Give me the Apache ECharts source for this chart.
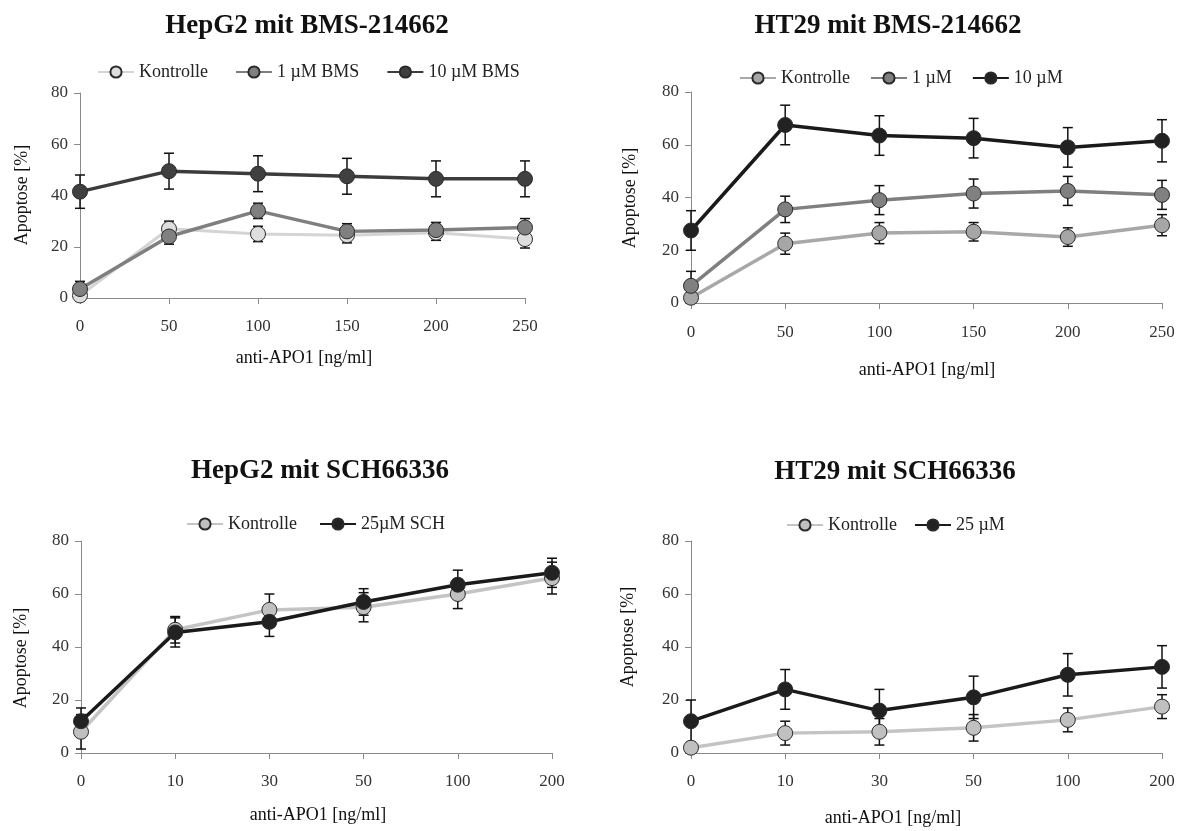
<!DOCTYPE html>
<html>
<head>
<meta charset="utf-8">
<script src="https://cdn.jsdelivr.net/npm/echarts@6/dist/echarts.min.js"></script>
<style>
  html, body { margin: 0; padding: 0; background: #fff; }
  #chart { width: 1184px; height: 831px; }
</style>
</head>
<body>
<div id="chart"></div>
<script>
const chart = echarts.init(document.getElementById('chart'));

// x-Achsen (anti-APO1 in ng/ml)
const dosesBMS = ['0', '50', '100', '150', '200', '250'];
const dosesSCH = ['0', '10', '30', '50', '100', '200'];
const yTicks = [0, 20, 40, 60, 80];

// HepG2 mit BMS-214662
const hepBmsCtrl = [1, 27, 25, 24.5, 25.5, 23];
const hepBmsCtrlErr = [2, 3, 3, 3, 3, 3.5];
const hepBms1 = [3.5, 24, 34, 26, 26.5, 27.5];
const hepBms1Err = [3, 3, 3, 3, 3, 3.5];
const hepBms10 = [41.5, 49.5, 48.5, 47.5, 46.5, 46.5];
const hepBms10Err = [6.5, 7, 7, 7, 7, 7];

// HT29 mit BMS-214662
const htBmsCtrl = [2, 22.5, 26.5, 27, 25, 29.5];
const htBmsCtrlErr = [2, 4, 4, 3.5, 3.5, 4];
const htBms1 = [6.5, 35.5, 39, 41.5, 42.5, 41];
const htBms1Err = [5.5, 5, 5.5, 5.5, 5.5, 5.5];
const htBms10 = [27.5, 67.5, 63.5, 62.5, 59, 61.5];
const htBms10Err = [7.5, 7.5, 7.5, 7.5, 7.5, 8];

// HepG2 mit SCH66336
const hepSchCtrl = [8, 46.5, 54, 55, 60, 66];
const hepSchCtrlErr = [6.5, 5, 6, 5.5, 5.5, 6];
const hepSch25 = [12, 45.5, 49.5, 57, 63.5, 68];
const hepSch25Err = [5, 5.5, 5.5, 5, 5.5, 5.5];

// HT29 mit SCH66336
const htSchCtrl = [2, 7.5, 8, 9.5, 12.5, 17.5];
const htSchCtrlErr = [1.5, 4.5, 5, 5, 4.5, 4.5];
const htSch25 = [12, 24, 16, 21, 29.5, 32.5];
const htSch25Err = [8, 7.5, 8, 8, 8, 8];

// Legendentexte
const legendText = {
  a1: 'Kontrolle', a2: '1 µM BMS', a3: '10 µM BMS',
  b1: 'Kontrolle', b2: '1 µM', b3: '10 µM',
  c1: 'Kontrolle', c2: '25µM SCH',
  d1: 'Kontrolle', d2: '25 µM'
};

const serif = 'Liberation Serif, Times New Roman, serif';

const grids = [
  { left: 80, top: 93, width: 445, height: 205 },
  { left: 691, top: 92, width: 471, height: 211 },
  { left: 81, top: 541, width: 471, height: 212 },
  { left: 691, top: 541, width: 471, height: 212 }
];

function xAxis(idx, cats, margin) {
  return {
    type: 'category', gridIndex: idx, data: cats, boundaryGap: false,
    axisLine: { lineStyle: { color: '#8a8a8a', width: 1 } },
    axisTick: { length: 6, lineStyle: { color: '#8a8a8a' } },
    axisLabel: { color: '#333', fontSize: 17, fontFamily: serif, margin: margin },
    splitLine: { show: false }
  };
}

function yAxis(idx) {
  return {
    type: 'value', gridIndex: idx, min: yTicks[0], max: yTicks[yTicks.length - 1], interval: 20,
    axisLine: { show: true, lineStyle: { color: '#8a8a8a', width: 1 } },
    axisTick: { show: true, length: 6, lineStyle: { color: '#8a8a8a' } },
    axisLabel: { color: '#333', fontSize: 17, fontFamily: serif, margin: 12 },
    splitLine: { show: false }
  };
}

function line(name, idx, data, lineColor, fill, width) {
  return {
    name: name, type: 'line', xAxisIndex: idx, yAxisIndex: idx, data: data,
    symbol: 'circle', symbolSize: 15, z: 3,
    lineStyle: { color: lineColor, width: width },
    itemStyle: { color: fill, borderColor: '#2a2a2a', borderWidth: 1 },
    emphasis: { disabled: true }
  };
}

function renderErr(params, api) {
  const x = api.value(0), v = api.value(1), e = api.value(2);
  const top = api.coord([x, v + e]);
  const bot = api.coord([x, v - e]);
  const w = 5;
  const style = { stroke: '#111', lineWidth: 1.5 };
  return {
    type: 'group',
    children: [
      { type: 'line', shape: { x1: top[0], y1: top[1], x2: bot[0], y2: bot[1] }, style: style },
      { type: 'line', shape: { x1: top[0] - w, y1: top[1], x2: top[0] + w, y2: top[1] }, style: style },
      { type: 'line', shape: { x1: bot[0] - w, y1: bot[1], x2: bot[0] + w, y2: bot[1] }, style: style }
    ]
  };
}

function errBars(idx, values, errs) {
  return {
    type: 'custom', xAxisIndex: idx, yAxisIndex: idx, z: 2, clip: false,
    renderItem: renderErr,
    data: values.map((v, i) => [i, v, errs[i]])
  };
}

function legend(names, left, top, gap) {
  return {
    data: names, left: left, top: top, itemWidth: 36, itemHeight: 14, itemGap: gap,
    selectedMode: false,
    formatter: n => legendText[n],
    textStyle: { color: '#222', fontSize: 18, fontFamily: serif }
  };
}

function txt(text, x, y, size, bold, rot) {
  return {
    type: 'text', x: x, y: y, rotation: rot || 0,
    style: {
      text: text, fill: '#111', align: 'center', verticalAlign: 'middle',
      font: (bold ? 'bold ' : '') + size + 'px ' + serif
    }
  };
}

const option = {
  backgroundColor: '#fff',
  animation: false,
  grid: grids,
  xAxis: [xAxis(0, dosesBMS, 20), xAxis(1, dosesBMS, 21), xAxis(2, dosesSCH, 20), xAxis(3, dosesSCH, 20)],
  yAxis: [yAxis(0), yAxis(1), yAxis(2), yAxis(3)],
  legend: [
    legend(['a1', 'a2', 'a3'], 92, 58, 27),
    legend(['b1', 'b2', 'b3'], 734, 64, 20),
    legend(['c1', 'c2'], 181, 510, 22),
    legend(['d1', 'd2'], 781, 511, 17)
  ],
  graphic: [
    txt('HepG2 mit BMS-214662', 307, 26, 27, true),
    txt('HT29 mit BMS-214662', 888, 26, 27, true),
    txt('HepG2 mit SCH66336', 320, 471, 27, true),
    txt('HT29 mit SCH66336', 895, 472, 27, true),
    txt('anti-APO1 [ng/ml]', 304, 358, 18),
    txt('anti-APO1 [ng/ml]', 927, 370, 18),
    txt('anti-APO1 [ng/ml]', 318, 815, 18),
    txt('anti-APO1 [ng/ml]', 893, 818, 18),
    txt('Apoptose [%]', 22, 195, 18, false, Math.PI / 2),
    txt('Apoptose [%]', 630, 198, 18, false, Math.PI / 2),
    txt('Apoptose [%]', 21, 658, 18, false, Math.PI / 2),
    txt('Apoptose [%]', 628, 637, 18, false, Math.PI / 2)
  ],
  series: [
    errBars(0, hepBmsCtrl, hepBmsCtrlErr),
    errBars(0, hepBms1, hepBms1Err),
    errBars(0, hepBms10, hepBms10Err),
    line('a1', 0, hepBmsCtrl, '#d4d4d4', '#dedede', 3),
    line('a2', 0, hepBms1, '#7f7f7f', '#808080', 3.5),
    line('a3', 0, hepBms10, '#3c3c3c', '#404040', 3.5),

    errBars(1, htBmsCtrl, htBmsCtrlErr),
    errBars(1, htBms1, htBms1Err),
    errBars(1, htBms10, htBms10Err),
    line('b1', 1, htBmsCtrl, '#a8a8a8', '#a6a6a6', 3.5),
    line('b2', 1, htBms1, '#7f7f7f', '#808080', 3.5),
    line('b3', 1, htBms10, '#1a1a1a', '#222222', 3.5),

    errBars(2, hepSchCtrl, hepSchCtrlErr),
    errBars(2, hepSch25, hepSch25Err),
    line('c1', 2, hepSchCtrl, '#c4c4c4', '#c0c0c0', 3.5),
    line('c2', 2, hepSch25, '#1a1a1a', '#222222', 3.5),

    errBars(3, htSchCtrl, htSchCtrlErr),
    errBars(3, htSch25, htSch25Err),
    line('d1', 3, htSchCtrl, '#c4c4c4', '#c0c0c0', 3.5),
    line('d2', 3, htSch25, '#1a1a1a', '#222222', 3.5)
  ]
};

chart.setOption(option);
</script>
</body>
</html>
